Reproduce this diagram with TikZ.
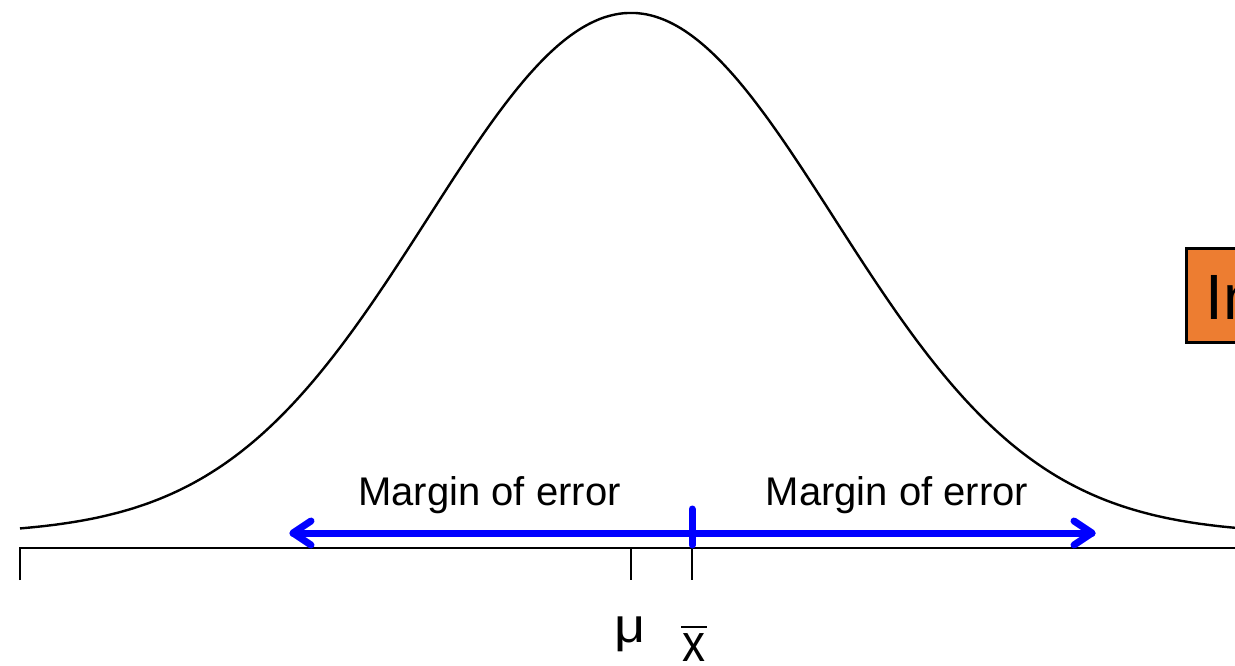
\documentclass[tikz,border=0pt]{standalone}
\usepackage{fontspec}
\usepackage{graphicx}
\setmainfont{Liberation Sans}
\definecolor{boxorange}{RGB}{237,125,49}
\definecolor{moeblue}{RGB}{0,0,255}
\begin{document}
\begin{tikzpicture}[x=0.5pt,y=-0.5pt,
  curveline/.style={line width=1.2pt,black},
  axisline/.style={line width=1.1pt,black},
  bluebar/.style={line width=3.5pt,moeblue,line cap=round,line join=round},
  moelabel/.style={font=\fontsize{20}{24}\selectfont,inner sep=0pt,anchor=base},
  symlabel/.style={inner sep=0pt,anchor=base}]
\useasboundingbox (0,0) rectangle (1235,665);
% orange box (partly off the page)
\node[draw=black,line width=1.3pt,fill=boxorange,anchor=north west,
  minimum width=70pt,minimum height=47pt,inner sep=0pt] (box) at (1185,247) {};
\node[anchor=base west,inner sep=0pt,font=\fontsize{32}{36}\selectfont] (boxtext) at (1205,319) {In};
% density curve
\draw[curveline] plot[domain=20:1245,samples=240,smooth]
  (\x,{534-521*exp(-0.5*((\x-631)/203)^2)});
% axis and ticks
\coordinate (a0) at (20,548);
\coordinate (a1) at (1245,548);
\coordinate (t0) at (20,580);
\coordinate (mu0) at (631,548);
\coordinate (mu1) at (631,580);
\coordinate (xb0) at (692,548);
\coordinate (xb1) at (692,580);
\draw[axisline] (t0) -- (a0) -- (a1);
\draw[axisline] (mu0) -- (mu1);
\draw[axisline] (xb0) -- (xb1);
% blue margin of error arrows
\coordinate (L) at (293,533);
\coordinate (R) at (1092,533);
\coordinate (Lu) at (311,521);
\coordinate (Ld) at (311,545);
\coordinate (Ru) at (1074,521);
\coordinate (Rd) at (1074,545);
\coordinate (c0) at (692,509);
\coordinate (c1) at (692,545);
\draw[bluebar] (L) -- (R);
\draw[bluebar] (Lu) -- (L) -- (Ld);
\draw[bluebar] (Ru) -- (R) -- (Rd);
\draw[bluebar] (c0) -- (c1);
% labels
\node[moelabel] (m1) at (489.5,505) {Margin of error};
\node[moelabel] (m2) at (897,505) {Margin of error};
\node[symlabel,font=\fontsize{27}{30}\selectfont] (mu) at (630,642) {\scalebox{1}[0.9]{μ}};
\node[symlabel,font=\fontsize{23}{26}\selectfont] (xbar) at (694,661) {\scalebox{1}[1.15]{x}};
\draw[line width=1pt] (681,627) -- (707,627);
\end{tikzpicture}
\end{document}
